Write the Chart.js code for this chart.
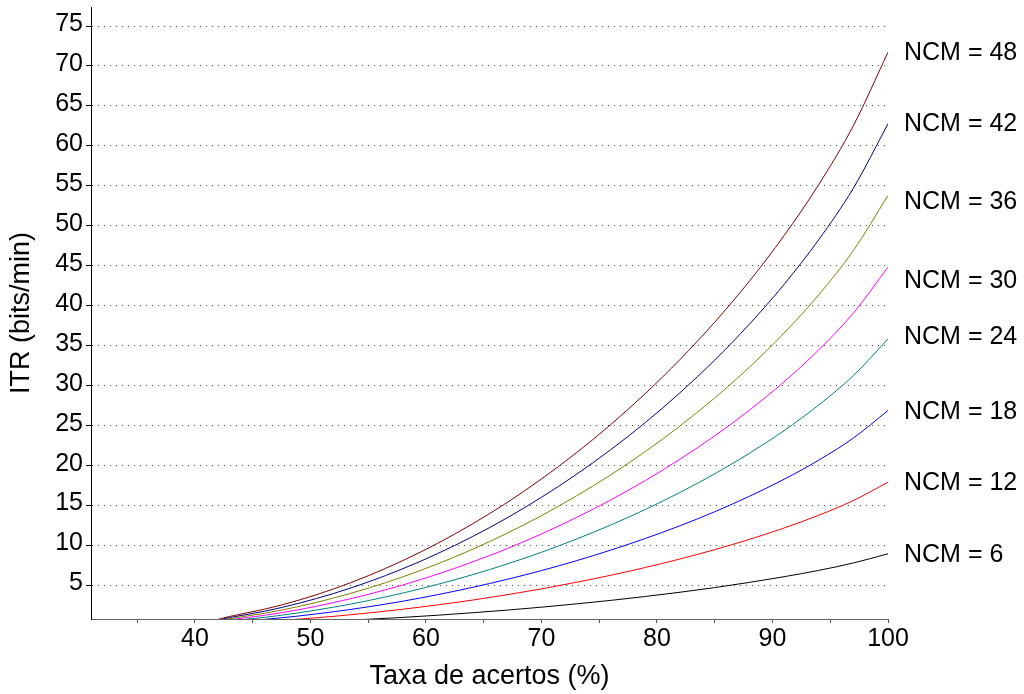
<!DOCTYPE html>
<html>
<head>
<meta charset="utf-8">
<title>ITR x taxa de acertos</title>
<script src="https://cdn.jsdelivr.net/npm/chart.js@4/dist/chart.umd.min.js"></script>
<style>
  body { margin: 0; background: #fff; }
  #wrap { width: 1024px; height: 694px; }
</style>
</head>
<body>
<div id="wrap"><canvas id="itr"></canvas></div>
<script>
// taxa de acertos (%) on the x axis
var taxa = [40, 43, 46, 49, 52, 55, 58, 61, 64, 67, 70, 73, 76, 79, 82, 85, 88, 91, 94, 97, 100];

// ITR (bits/min) for each NCM
var ncm6  = [0, 0.14, 0.25, 0.40, 0.57, 0.78, 1.01, 1.28, 1.59, 1.92, 2.29, 2.70, 3.14, 3.63, 4.16, 4.74, 5.39, 6.10, 6.89, 7.82, 8.97];
var ncm12 = [0, 0.28, 0.51, 0.79, 1.14, 1.56, 2.03, 2.57, 3.17, 3.84, 4.58, 5.40, 6.28, 7.26, 8.32, 9.49, 10.77, 12.19, 13.79, 15.63, 17.93];
var ncm18 = [0, 0.42, 0.76, 1.19, 1.72, 2.33, 3.04, 3.85, 4.76, 5.76, 6.87, 8.09, 9.43, 10.89, 12.48, 14.23, 16.16, 18.29, 20.68, 23.45, 26.90];
var ncm24 = [0, 0.57, 1.01, 1.59, 2.29, 3.11, 4.06, 5.14, 6.34, 7.68, 9.16, 10.79, 12.57, 14.52, 16.65, 18.98, 21.54, 24.38, 27.58, 31.26, 35.86];
var ncm30 = [0, 0.71, 1.27, 1.98, 2.86, 3.89, 5.07, 6.42, 7.93, 9.60, 11.45, 13.49, 15.71, 18.14, 20.81, 23.72, 26.93, 30.48, 34.47, 39.08, 44.83];
var ncm36 = [0, 0.85, 1.52, 2.38, 3.43, 4.67, 6.09, 7.70, 9.51, 11.52, 13.74, 16.19, 18.85, 21.77, 24.97, 28.47, 32.31, 36.58, 41.36, 46.90, 53.79];
var ncm42 = [0, 0.99, 1.77, 2.78, 4.00, 5.44, 7.10, 8.99, 11.10, 13.44, 16.04, 18.88, 22.00, 25.40, 29.13, 33.21, 37.70, 42.67, 48.26, 54.71, 62.76];
var ncm48 = [0, 1.13, 2.03, 3.17, 4.57, 6.22, 8.12, 10.27, 12.69, 15.36, 18.33, 21.58, 25.14, 29.03, 33.29, 37.95, 43.08, 48.77, 55.15, 62.53, 71.72];

var rotulos = ['NCM = 48', 'NCM = 42', 'NCM = 36', 'NCM = 30', 'NCM = 24', 'NCM = 18', 'NCM = 12', 'NCM = 6'];
// height (bits/min) where each label sits, right of the plot
var rotuloY = [71.65, 62.68, 53.02, 43.07, 36.13, 26.75, 17.79, 8.76];

var series = [ncm48, ncm42, ncm36, ncm30, ncm24, ncm18, ncm12, ncm6];
var cores = ['#800000', '#000080', '#808000', '#ff00ff', '#008080', '#0000ff', '#ff0000', '#000000'];

var fonte = '"Liberation Sans", Arial, sans-serif';

function pontos(s) {
    return taxa.map(function (x, i) { return { x: x, y: s[i] }; });
}

var datasets = series.map(function (s, i) {
    return {
        label: rotulos[i],
        data: pontos(s),
        borderColor: cores[i],
        borderWidth: 1,
        pointRadius: 0,
        cubicInterpolationMode: 'monotone',
        fill: false
    };
});

// writes "NCM = .." next to the end of each curve
var rotulosPlugin = {
    id: 'rotulos',
    afterDraw: function (chart) {
        var ctx = chart.ctx;
        var y = chart.scales.y;
        ctx.save();
        ctx.font = '25px ' + fonte;
        ctx.fillStyle = '#000';
        ctx.textAlign = 'left';
        ctx.textBaseline = 'middle';
        rotulos.forEach(function (t, i) {
            ctx.fillText(t, chart.chartArea.right + 16, y.getPixelForValue(rotuloY[i]));
        });
        ctx.restore();
    }
};

var ctx = document.getElementById('itr');
var chart = new Chart(ctx, {
    type: 'line',
    data: { datasets: datasets },
    plugins: [rotulosPlugin],
    options: {
        responsive: true,
        maintainAspectRatio: false,
        animation: false,
        layout: { padding: { top: 7, right: 136, bottom: 0, left: 0 } },
        plugins: {
            legend: { display: false },
            tooltip: { enabled: false }
        },
        scales: {
            x: {
                type: 'linear',
                min: 31,
                max: 100,
                afterFit: function (s) { s.height = 75; },
                ticks: {
                    stepSize: 5,
                    includeBounds: false,
                    autoSkip: false,
                    maxRotation: 0,
                    padding: 1,
                    color: '#000',
                    font: { family: fonte, size: 25 },
                    callback: function (v) { return v % 10 === 0 ? v : ''; }
                },
                grid: { drawOnChartArea: false, tickLength: 4, tickColor: '#555' },
                border: { color: '#666' },
                title: {
                    display: true,
                    text: 'Taxa de acertos (%)',
                    color: '#000',
                    font: { family: fonte, size: 27 },
                    padding: { top: 0, bottom: 1 }
                }
            },
            y: {
                min: 0.81,
                max: 77.38,
                afterFit: function (s) {
                    s.width = 91;
                    // no extra room for the tick labels above/below the plot
                    s.paddingTop = 0;
                    s.paddingBottom = 0;
                },
                ticks: {
                    stepSize: 5,
                    includeBounds: false,
                    padding: 3,
                    labelOffset: -2,
                    color: '#000',
                    font: { family: fonte, size: 25 }
                },
                grid: { color: '#444', tickLength: 5, tickColor: '#000' },
                border: { color: '#000', dash: [1, 5] },
                title: {
                    display: true,
                    text: 'ITR (bits/min)',
                    color: '#000',
                    font: { family: fonte, size: 27 },
                    padding: { top: 5, bottom: 0 }
                }
            }
        }
    }
});
</script>
</body>
</html>
